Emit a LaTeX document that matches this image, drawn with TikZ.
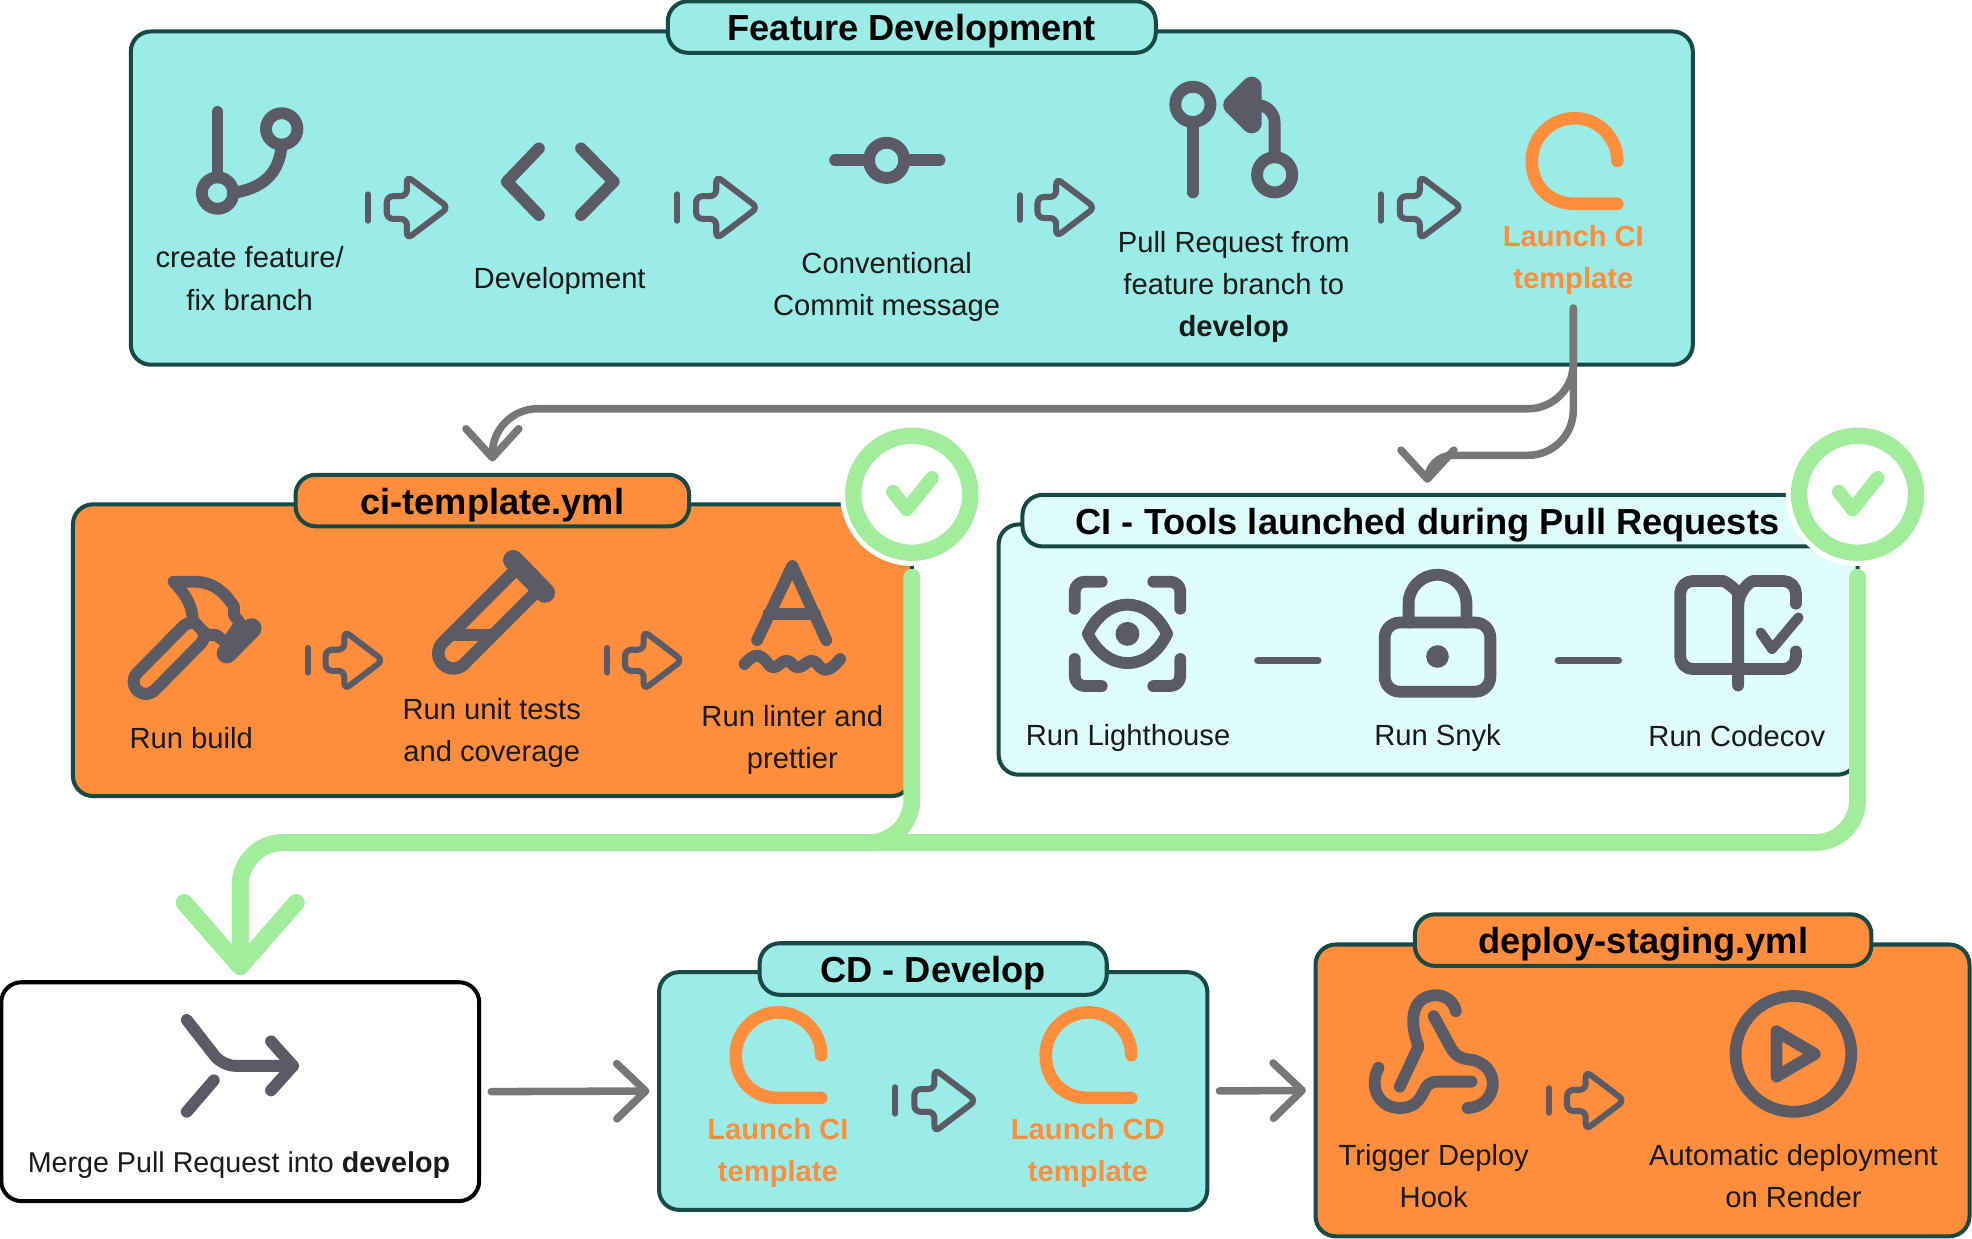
\documentclass[tikz,border=0pt]{standalone}
\usepackage{fontspec}
\setmainfont{Liberation Sans}
\usetikzlibrary{arrows.meta}
\definecolor{panelline}{HTML}{174A47}
\definecolor{tealfill}{HTML}{9BECE6}
\definecolor{orangefill}{HTML}{FF8D3C}
\definecolor{paleblue}{HTML}{E0FDFE}
\definecolor{icongray}{HTML}{5B5B65}
\definecolor{linkgray}{HTML}{777777}
\definecolor{okgreen}{HTML}{A1ED9B}
\definecolor{ink}{HTML}{1A1A1A}
\tikzset{
  panel/.style={draw=panelline,line width=1.6pt,rounded corners=8pt,inner sep=0pt},
  paneltitle/.style={panel,font=\fontsize{14.4}{18}\selectfont\bfseries,text=black,text height=12.5pt,text depth=1.5pt},
  steplabel/.style={align=center,font=\fontsize{11.6}{16.7}\selectfont,text=ink,inner sep=0pt},
  launchlabel/.style={steplabel,font=\fontsize{11.6}{16.7}\selectfont\bfseries,text=orangefill},
  iconline/.style={draw=icongray,line width=4.7pt,line cap=round,line join=round},
  graylink/.style={draw=linkgray,line width=3pt,line cap=round,rounded corners=18pt,
    -{Straight Barb[round,length=11.5pt,width=21pt]}},
  boxlink/.style={graylink,rounded corners=0pt,shorten >=3pt,shorten <=4pt,
    -{Straight Barb[round,length=11.5pt,width=22pt]}},
  greenlink/.style={draw=okgreen,line width=6.7pt,line cap=round,rounded corners=17pt,
    -{Straight Barb[round,length=25.5pt,width=44.5pt]},shorten >=2pt,shorten <=6.5pt},
  checkring/.style={circle,draw=okgreen,fill=white,line width=6.5pt,minimum size=93pt*.5,inner sep=0pt,
    preaction={draw=white,line width=10.5pt}},
  pics/steparrow/.style={code={
    \draw[draw=icongray,line width=2.4pt,line cap=round] (0,-10.5) -- (0,10.5);
    \draw[draw=icongray,line width=2.4pt,rounded corners=2.5pt]
      (15,-9) -- (31,-9) -- (31,-25) -- (64,0) -- (31,25) -- (31,9) -- (15,9) -- cycle;
  }},
  pics/launchicon/.style={code={
    \draw[draw=orangefill,line width=5pt,line cap=round]
      (34,0) arc (0:-180:34) .. controls (-34,20) and (-20,34) .. (0,34) -- (34,34);
  }},
  pics/okmark/.style={code={
    \draw[draw=okgreen,line width=5.5pt,line cap=round,line join=round]
      (-15,-2) -- (-4,12) -- (16,-13);
  }},
}
\begin{document}
\begin{tikzpicture}[x=0.5pt,y=-0.5pt]
  \useasboundingbox (0,0) rectangle (1568,984.4);

  % panels
  \node[panel,fill=tealfill,minimum width=621pt,minimum height=132.5pt] (featurebox) at (725,157.5) {};
  \node[paneltitle,fill=tealfill,minimum width=194pt,minimum height=20.5pt] (featuretitle) at (725,21.5) {Feature Development};
  \node[panel,fill=orangefill,minimum width=333.5pt,minimum height=116pt] (cibox) at (391.5,517) {};
  \node[paneltitle,fill=orangefill,minimum width=156.5pt,minimum height=20.5pt] (cititle) at (391.5,398) {ci-template.yml};
  \node[panel,fill=paleblue,minimum width=341.5pt,minimum height=99.5pt] (toolbox) at (1135.5,516.5) {};
  \node[paneltitle,fill=paleblue,minimum width=322pt,minimum height=20.5pt] (tooltitle) at (1135,414) {CI - Tools launched during Pull Requests};
  \node[panel,draw=black,fill=white,minimum width=190pt,minimum height=87pt] (mergebox) at (191,868) {};
  \node[panel,fill=tealfill,minimum width=218pt,minimum height=94.5pt] (cdbox) at (742,867.5) {};
  \node[paneltitle,fill=tealfill,minimum width=138pt,minimum height=20.5pt] (cdtitle) at (742,770.5) {CD - Develop};
  \node[panel,fill=orangefill,minimum width=260pt,minimum height=116pt] (stagingbox) at (1306,867) {};
  \node[paneltitle,fill=orangefill,minimum width=181.5pt,minimum height=20.5pt] (stagingtitle) at (1306.5,747.5) {deploy-staging.yml};

  % branch
  \draw[iconline] (173,89) -- (173,141);
  \draw[iconline] (173,153.5) circle (12.5);
  \draw[iconline] (224,102.5) circle (12.5);
  \draw[iconline] (224,115) .. controls (222,140) and (207,150) .. (185,153.5);
  % code
  \draw[iconline] (428.5,118) -- (403,144.5) -- (428.5,171);
  \draw[iconline] (462,118) -- (488,144.5) -- (462,171);
  % commit
  \draw[iconline] (664,127.5) -- (691,127.5);
  \draw[iconline] (719,127.5) -- (747,127.5);
  \draw[iconline] (705,127.5) circle (14);
  % pull request
  \draw[iconline] (948.5,83) circle (14);
  \draw[iconline] (948.5,97) -- (948.5,153);
  \draw[iconline] (1013.5,139) circle (14);
  \draw[iconline,rounded corners=7pt] (1013.5,125) -- (1013.5,83.5) -- (990,83.5);
  \draw[iconline,line width=8pt,fill=icongray] (995.2,69) -- (980.6,83.5) -- (995.2,98) -- cycle;

  % hammer
  \draw[draw=icongray,line width=4.85pt,double=orangefill,double distance=4.85pt,line cap=round] (152.5,505) -- (116,542);
  \draw[iconline,fill=orangefill] (138,462.5) -- (153.8,462.5) .. controls (167,462.5) and (174,468) .. (180.3,474.5)
    -- (186,482) -- (186,489) -- (191,495.7) -- (180.3,511.6) -- (172.3,505) -- (165.7,505) -- (161.7,502.3) -- (153.2,493)
    .. controls (153,484) and (150,475) .. cycle;
  \draw[iconline,line width=8pt] (200,499.6) -- (180.3,519.5);
  % test tube
  \draw[draw=icongray,line width=5pt,double=orangefill,double distance=7pt,line cap=round] (414.8,465.2) -- (360.5,519.5);
  \draw[iconline,line width=8pt] (408,445.3) -- (433.3,471.3);
  \draw[iconline] (357.8,505) -- (391.5,505);
  % linter
  \draw[iconline] (602,509) -- (630,450) -- (657,509);
  \draw[iconline] (611,488) -- (648,488);
  \draw[iconline] (592,528) .. controls (600,519) and (604,519) .. (611,528)
    .. controls (618,537) and (622,519) .. (630,528)
    .. controls (638,537) and (642,519) .. (650,528)
    .. controls (656,537) and (662,531) .. (668,524);

  % eye scan
  \draw[iconline,rounded corners=4pt] (854.5,484) -- (854.5,462.5) -- (876,462.5);
  \draw[iconline,rounded corners=4pt] (917,462.5) -- (938.5,462.5) -- (938.5,484);
  \draw[iconline,rounded corners=4pt] (854.5,524) -- (854.5,545.5) -- (876,545.5);
  \draw[iconline,rounded corners=4pt] (917,545.5) -- (938.5,545.5) -- (938.5,524);
  \draw[iconline] (865,504) .. controls (880,473) and (913,473) .. (928,504)
    .. controls (913,535) and (880,535) .. cycle;
  \fill[icongray] (896.5,504) circle (9.5);
  % lock
  \draw[iconline,rounded corners=6pt] (1101,495) rectangle (1185,550);
  \draw[iconline] (1120,495) -- (1120,480) arc (180:360:23) -- (1166,495);
  \fill[icongray] (1143,522) circle (9);
  % book
  \draw[iconline,rounded corners=5pt] (1382,532) -- (1336,532) -- (1336,462) -- (1360,462)
    .. controls (1372,462) and (1382,470) .. (1382,482) -- (1382,545);
  \draw[iconline,rounded corners=5pt] (1428,480) -- (1428,462) -- (1404,462)
    .. controls (1392,462) and (1382,470) .. (1382,482);
  \draw[iconline,rounded corners=5pt] (1428,518) -- (1428,532) -- (1382,532);
  \draw[iconline,line width=4pt] (1400,503) -- (1409,516) -- (1430,491);
  % tool dashes
  \draw[iconline,line width=2.8pt] (1000,525) -- (1048,525);
  \draw[iconline,line width=2.8pt] (1239,525) -- (1287,525);

  % merge
  \draw[iconline,rounded corners=5pt] (148.5,811) -- (177,847.5) -- (233,847.5);
  \draw[iconline] (215.5,828) -- (233,847.5) -- (215.5,867);
  \draw[iconline] (170,859) -- (148.5,884);
  % webhook
  \draw[iconline] (1157.5,804) .. controls (1155,792) and (1143,790) .. (1137,792)
    .. controls (1123,795) and (1120,812) .. (1128,832) -- (1113,864);
  \draw[iconline] (1140,808) -- (1153,832) .. controls (1158,842) and (1165,842) .. (1172,843)
    .. controls (1195,850) and (1190,880) .. (1167,881);
  \draw[iconline] (1096,849) .. controls (1088,865) and (1097,881) .. (1113,881)
    .. controls (1125,881) and (1129,874) .. (1132,868) .. controls (1134,863) and (1137,860) .. (1143,860) -- (1170,860);
  % play
  \draw[iconline] (1426,838) circle (46);
  \draw[iconline] (1412.5,820) -- (1443,838) -- (1412.5,856) -- cycle;

  \pic at (292.5,165) {steparrow};
  \pic at (538.5,165) {steparrow};
  \pic[scale=.93] at (811,165) {steparrow};
  \pic at (1098,165) {steparrow};
  \pic[scale=.93] at (245,525) {steparrow};
  \pic[scale=.93] at (483,525) {steparrow};
  \pic at (712,875) {steparrow};
  \pic[scale=.93] at (1232,875) {steparrow};

  \pic at (1252,128) {launchicon};
  \pic at (619,839) {launchicon};
  \pic at (865.5,839) {launchicon};

  % labels
  \node[steplabel] (branchlabel) at (198.5,221.5) {create feature/\\fix branch};
  \node[steplabel] (devlabel) at (445,223) {Development};
  \node[steplabel] (commitlabel) at (705,228) {Conventional\\Commit message};
  \node[steplabel] (prlabel) at (981,228.5) {Pull Request from\\feature branch to\\\textbf{develop}};
  \node[launchlabel] (launchlabel) at (1251,207) {Launch CI\\template};
  \node[steplabel] (buildlabel) at (152,587) {Run build};
  \node[steplabel] (testlabel) at (391,583) {Run unit tests\\and coverage};
  \node[steplabel] (lintlabel) at (630,588.5) {Run linter and\\prettier};
  \node[steplabel] (lighthouselabel) at (897,587) {Run Lighthouse};
  \node[steplabel] (snyklabel) at (1143,587) {Run Snyk};
  \node[steplabel] (codecovlabel) at (1381,585) {Run Codecov};
  \node[steplabel,font=\fontsize{11.4}{16.7}\selectfont] (mergelabel) at (190,926.5) {Merge Pull Request into \textbf{develop}};
  \node[launchlabel] (cilaunchlabel) at (618.5,917) {Launch CI\\template};
  \node[launchlabel] (cdlaunchlabel) at (865,917) {Launch CD\\template};
  \node[steplabel] (hooklabel) at (1140,935.5) {Trigger Deploy\\Hook};
  \node[steplabel] (renderlabel) at (1426,935.5) {Automatic deployment\\on Render};

  % checks
  \node[checkring] (cicheck) at (725,393) {};
  \node[checkring] (toolcheck) at (1477,393) {};
  \pic at (725,393) {okmark};
  \pic at (1477,393) {okmark};

  % links
  \coordinate (launchout) at (1251,245);
  \coordinate (grayA) at (0,325);
  \coordinate (grayB) at (0,362);
  \coordinate (greenbus) at (0,670);
  \draw[graylink,shorten >=4.5pt] (launchout) -- (launchout |- grayA) -- (cititle.north |- grayA) -- (cititle.north);
  \draw[graylink,shorten >=4pt] (launchout) -- (launchout |- grayB) [rounded corners=10pt] -- (tooltitle.north |- grayB) -- (tooltitle.north);
  \draw[boxlink] (mergebox.east) -- (cdbox.west);
  \draw[boxlink] (cdbox.east) -- (stagingbox.west);
  \draw[greenlink] (cicheck.south) -- (cicheck.south |- greenbus) -- (mergebox.north |- greenbus) -- (mergebox.north);
  \draw[greenlink] (toolcheck.south) -- (toolcheck.south |- greenbus) -- (mergebox.north |- greenbus) -- (mergebox.north);
\end{tikzpicture}
\end{document}
